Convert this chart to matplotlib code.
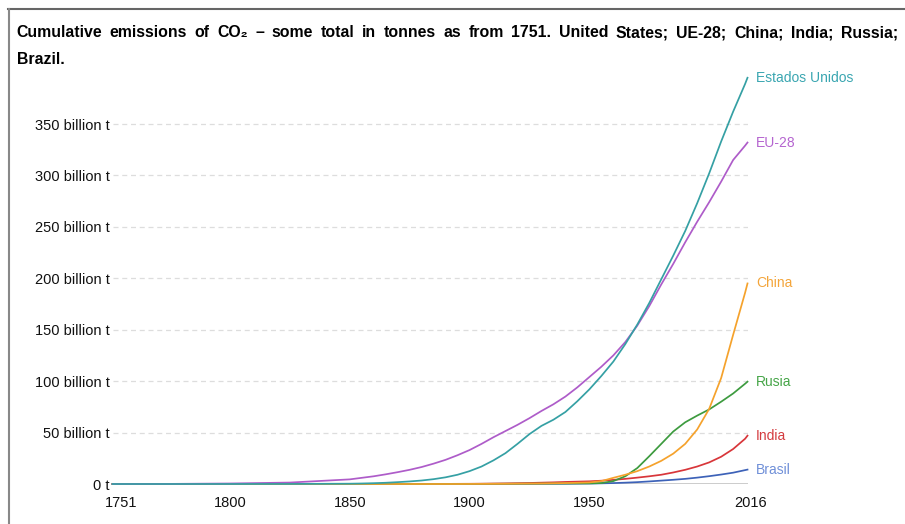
import matplotlib
matplotlib.use("Agg")
import matplotlib.pyplot as plt
from matplotlib.lines import Line2D
from matplotlib.transforms import ScaledTranslation

plt.rcParams['font.family'] = ['Liberation Sans', 'DejaVu Sans']

# ---------------- data (billion tonnes CO2, cumulative) ----------------
years = [1751, 1775, 1800, 1825,
         1850, 1855, 1860, 1865, 1870, 1875, 1880, 1885, 1890, 1895,
         1900, 1905, 1910, 1915, 1920, 1925, 1930, 1935, 1940, 1945,
         1950, 1955, 1960, 1965, 1970, 1975, 1980, 1985, 1990, 1995,
         2000, 2005, 2010, 2015, 2016]

united_states = [0, 0, 0.01, 0.06,
                 0.3, 0.5, 0.8, 1.2, 1.8, 2.5, 3.4, 4.7, 6.5, 9,
                 12.5, 17, 23, 30, 39, 48.5, 56.5, 62.5, 70, 80.5,
                 92, 105, 119, 136, 155, 176, 199, 222, 246, 273,
                 302, 333, 362, 389, 395]
eu28 = [0.01, 0.1, 0.5, 1.4,
        4.5, 6, 7.5, 9.4, 11.5, 13.8, 16.5, 19.8, 23.5, 28,
        33, 39, 45.5, 51.5, 57.5, 64, 71, 77.5, 85, 94,
        104, 114, 125, 138, 154, 173, 194, 214, 235, 255,
        274, 294, 315, 329, 332]
china = [0, 0, 0, 0,
         0, 0, 0, 0, 0, 0, 0, 0, 0, 0,
         0.05, 0.1, 0.15, 0.2, 0.3, 0.4, 0.5, 0.7, 0.9, 1.2,
         1.5, 2.8, 6, 9, 12.5, 17, 22.5, 29.5, 39, 53,
         73, 103, 145, 186, 195]
russia = [0, 0, 0, 0,
          0, 0, 0, 0, 0, 0, 0, 0, 0, 0,
          0.1, 0.15, 0.2, 0.25, 0.3, 0.35, 0.4, 0.45, 0.5, 0.55,
          0.6, 0.9, 2.8, 7.5, 15.5, 27, 39, 51, 60, 66.5,
          72.5, 80, 88, 97.5, 99.5]
india = [0, 0, 0, 0,
         0, 0, 0, 0.01, 0.02, 0.03, 0.05, 0.07, 0.1, 0.15,
         0.2, 0.3, 0.45, 0.6, 0.8, 1, 1.3, 1.6, 2, 2.3,
         2.6, 3.2, 4, 5, 6.2, 7.5, 9, 11.2, 13.8, 17,
         21, 26.5, 34, 44, 47]
brazil = [0, 0, 0, 0,
          0, 0, 0, 0, 0, 0, 0, 0.005, 0.01, 0.015,
          0.02, 0.03, 0.05, 0.07, 0.1, 0.13, 0.17, 0.21, 0.25, 0.35,
          0.45, 0.65, 0.9, 1.3, 1.8, 2.5, 3.3, 4.1, 5, 6.2,
          7.6, 9.2, 11, 13.5, 14]

series_names = ["Estados Unidos", "EU-28", "China", "Rusia", "India", "Brasil"]
series_values = [united_states, eu28, china, russia, india, brazil]
line_colors = ["#35a0a4", "#ae5cc9", "#f5a22c", "#3d9b3f", "#d8363a", "#3d62b8"]
label_colors = ["#3aa6b1", "#b565d0", "#f4a53a", "#46a548", "#d43c40", "#6f8fd8"]

ytick_vals = [0, 50, 100, 150, 200, 250, 300, 350]
ytick_labels = ["0 t", "50 billion t", "100 billion t", "150 billion t",
                "200 billion t", "250 billion t", "300 billion t", "350 billion t"]
xtick_vals = [1751, 1800, 1850, 1900, 1950, 2016]
xtick_labels = ["1751", "1800", "1850", "1900", "1950", "2016"]

title_line1 = ("Cumulative emissions of CO\u2082 \u2013 some total in tonnes as from 1751. "
               "United States; UE-28; China; India; Russia;")
title_line2 = "Brazil."

# ---------------- figure ----------------
W, H = 905, 524
fig = plt.figure(figsize=(W / 100, H / 100), dpi=100)
fig.patch.set_facecolor("white")

ax_left, ax_right = 112.5, 747.5
ax_bottom_px, ax_top_px = 484, 72.6  # y=0 and y=400
ax = fig.add_axes([ax_left / W, 1 - ax_bottom_px / H,
                   (ax_right - ax_left) / W, (ax_bottom_px - ax_top_px) / H])
ax.set_xlim(1751, 2016)
ax.set_ylim(0, 400)
for s in ax.spines.values():
    s.set_visible(False)
ax.patch.set_alpha(0)

# grid
for v in ytick_vals[1:]:
    ax.axhline(v, color="#dddddd", lw=0.9, ls=(0, (4, 3)), zorder=1)
ax.axhline(0, color="#c4c4c4", lw=1.2, zorder=1)

# series
order = [5, 4, 3, 2, 1, 0]
for i in order:
    ax.plot(years, series_values[i], color=line_colors[i], lw=1.25,
            zorder=3, clip_on=False, solid_joinstyle="round")

# end labels
for i, name in enumerate(series_names):
    ax.annotate(name, xy=(years[-1], series_values[i][-1]), xytext=(6, 0),
                textcoords="offset points", va="center", ha="left",
                fontsize=10, color=label_colors[i])

# ticks
ax.set_yticks(ytick_vals)
ax.set_yticklabels(ytick_labels, fontsize=10.5, color="#111111")
ax.set_xticks(xtick_vals)
ax.set_xticklabels(xtick_labels, fontsize=10.5, color="#111111")
ax.tick_params(axis="y", length=0, pad=2)
ax.tick_params(axis="x", length=0, pad=8.5)
xl = ax.get_xticklabels()
xl[0].set_transform(xl[0].get_transform() + ScaledTranslation(9 / 100, 0, fig.dpi_scale_trans))
xl[-1].set_transform(xl[-1].get_transform() + ScaledTranslation(3 / 100, 0, fig.dpi_scale_trans))

# frame lines
fig.add_artist(Line2D([8 / W, 1.0], [1 - 8.5 / H, 1 - 8.5 / H], color="#666666", lw=1.5))
fig.add_artist(Line2D([8.5 / W, 8.5 / W], [1 - 8.5 / H, 0], color="#888888", lw=1.5))

# justified title
renderer = fig.canvas.get_renderer()
words = title_line1.split(" ")
tobjs = []
for w in words:
    t = fig.text(0, 1 - 37.3 / H, w, fontsize=11.4, fontweight="bold",
                 va="baseline", ha="left", color="#000000")
    tobjs.append(t)
widths = [t.get_window_extent(renderer).width for t in tobjs]
x0, x1 = 16.5, 898
gap = (x1 - x0 - sum(widths)) / (len(words) - 1)
x = x0
for t, wd in zip(tobjs, widths):
    t.set_x(x / W)
    x += wd + gap
fig.text(16.5 / W, 1 - 64.3 / H, title_line2, fontsize=11.4, fontweight="bold",
         va="baseline", ha="left", color="#000000")

fig.savefig("out.png", dpi=100, facecolor="white")
